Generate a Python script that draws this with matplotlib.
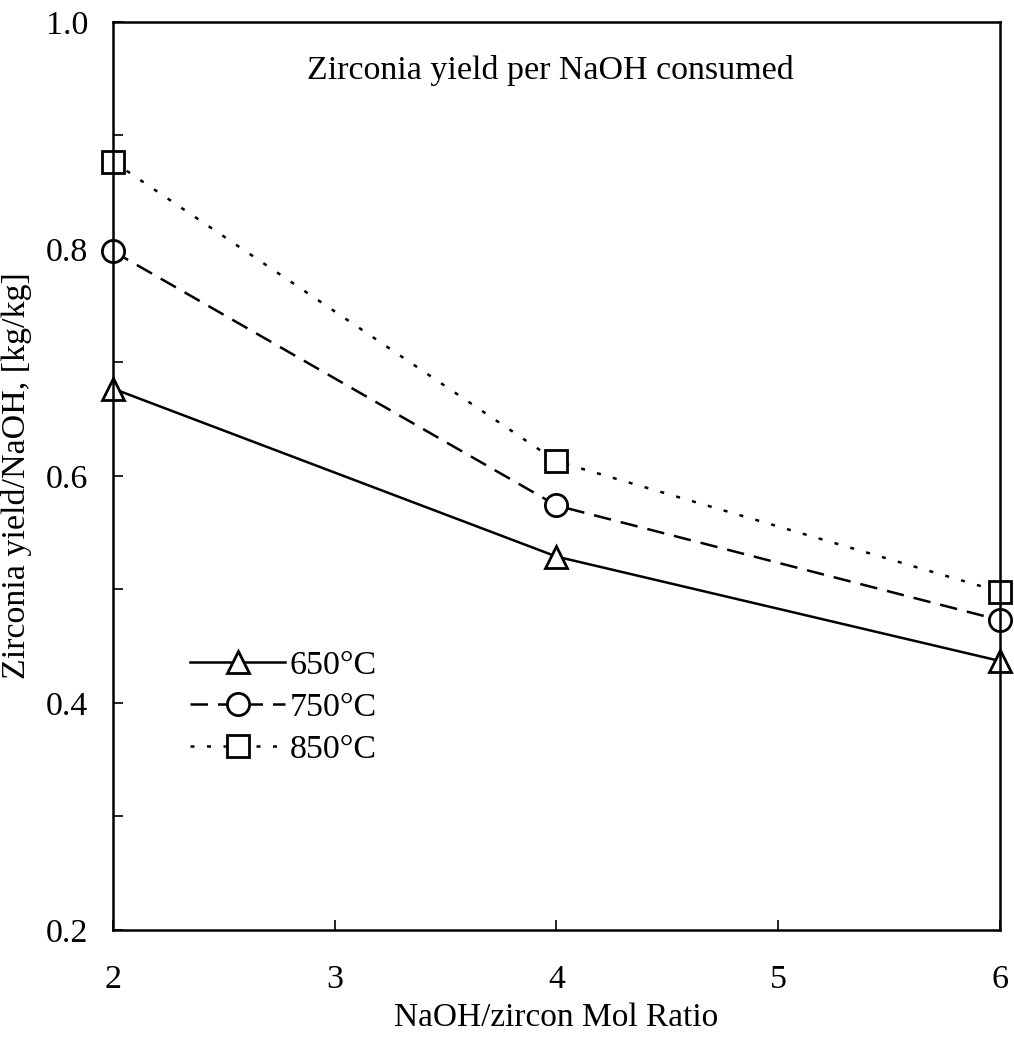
import numpy as np
import matplotlib
matplotlib.use("Agg")
import matplotlib.pyplot as plt
from matplotlib.ticker import MultipleLocator

# %% data

mol_ratio = [2, 4, 6]
yield_650 = [0.677, 0.529, 0.437]
yield_750 = [0.798, 0.574, 0.473]
yield_850 = [0.877, 0.613, 0.498]

labels = ['650\u00b0C', '750\u00b0C', '850\u00b0C']

# %% plot

plt.rcParams['font.family'] = ['Liberation Serif', 'DejaVu Serif']
plt.rcParams['font.size'] = 24.5

fig = plt.figure(figsize=(10.14, 10.37), dpi=100)
ax = fig.add_axes([0.1114, 0.1032, 0.8748, 0.8756])

mk = dict(markersize=16, markerfacecolor='white', markeredgecolor='black',
          markeredgewidth=2.0, color='black', linewidth=1.8, clip_on=False)

ax.plot(mol_ratio, yield_650, marker='^', linestyle='-', label=labels[0], **mk)
ax.plot(mol_ratio, yield_750, marker='o', linestyle=(0, (7, 4)), label=labels[1], **mk)
ax.plot(mol_ratio, yield_850, marker='s', linestyle=(0, (1.6, 5)), label=labels[2], **mk)

ax.set_xlim(2, 6)
ax.set_ylim(0.2, 1.0)
ax.xaxis.set_major_locator(MultipleLocator(1))
ax.yaxis.set_major_locator(MultipleLocator(0.2))
ax.yaxis.set_minor_locator(MultipleLocator(0.1))
ax.yaxis.set_major_formatter(plt.FormatStrFormatter('%.1f'))
ax.tick_params(which='both', direction='in', length=7, width=1.2, top=False, right=False)
ax.tick_params(axis='y', pad=18)
ax.tick_params(axis='x', pad=25)
for s in ax.spines.values():
    s.set_linewidth(1.8)

ax.set_xlabel('NaOH/zircon Mol Ratio', labelpad=5, fontsize=24)
ax.set_ylabel('Zirconia yield/NaOH, [kg/kg]', labelpad=10)

ax.text(0.493, 0.947, 'Zirconia yield per NaOH consumed', transform=ax.transAxes,
        ha='center', va='center')

ax.legend(loc='upper left', bbox_to_anchor=(0.087, 0.308), frameon=False,
          handlelength=2.8, handletextpad=0.12, labelspacing=0.32, borderaxespad=0,
          borderpad=0)

fig.savefig('out.png', dpi=100)
